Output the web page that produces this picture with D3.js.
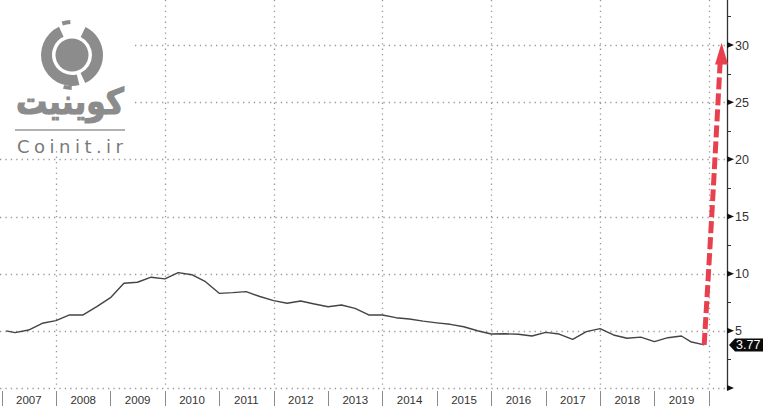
<!DOCTYPE html>
<html><head><meta charset="utf-8">
<script src="https://cdn.jsdelivr.net/npm/d3@7"></script>
<style>html,body{margin:0;padding:0;background:#fff;}svg{display:block;}</style>
</head><body>
<svg id="chart" width="768" height="406"></svg>
<script>
// ---- data ----
const dates = ["2007-02","2007-04","2007-07","2007-10","2008-01","2008-04","2008-07","2008-10",
"2009-01","2009-04","2009-07","2009-10","2010-01","2010-04","2010-07","2010-10",
"2011-01","2011-04","2011-07","2011-10","2012-01","2012-04","2012-07","2012-10",
"2013-01","2013-04","2013-07","2013-10","2014-01","2014-04","2014-07","2014-10",
"2015-01","2015-04","2015-07","2015-10","2016-01","2016-04","2016-07","2016-10",
"2017-01","2017-04","2017-07","2017-10","2018-01","2018-04","2018-07","2018-10",
"2019-01","2019-04","2019-07","2019-09","2019-12"];
const values = [5.0,4.84,5.07,5.66,5.89,6.39,6.39,7.11,
7.9,9.16,9.25,9.69,9.54,10.09,9.91,9.3,
8.28,8.34,8.43,8.0,7.64,7.41,7.61,7.35,
7.11,7.26,6.97,6.39,6.39,6.15,6.04,5.85,
5.7,5.57,5.36,5.01,4.72,4.74,4.7,4.55,
4.87,4.72,4.26,4.93,5.19,4.64,4.35,4.45,
4.05,4.4,4.55,4.05,3.77];
const years = [2007,2008,2009,2010,2011,2012,2013,2014,2015,2016,2017,2018,2019];
const yTicks = [0,5,10,15,20,25,30];
const yMinorTicks = [2.5,7.5,12.5,17.5,22.5,27.5,32.5];
const gridYears = [2008,2010,2012,2014,2016,2018,2020];
const lastLabel = "3.77";
// annotation arrow path (date, value)
const arrowPts = [["2019-12-01",3.77],["2020-01-25",16],["2020-03-20",29.2]];

// ---- chart ----
const svg = d3.select("#chart");
const parse = d3.timeParse("%Y-%m");
const parseD = d3.timeParse("%Y-%m-%d");
const data = dates.map((d,i)=>({date:parse(d), v:values[i]}));

const x = d3.scaleTime().domain([new Date(2007,0,1), new Date(2020,0,1)]).range([1.6, 708.8]);
const y = d3.scaleLinear().domain([0,30]).range([388,45]);
const axisX = 727;

// gridlines
const grid = svg.append("g").attr("stroke","#999").attr("stroke-width",1.3).attr("stroke-dasharray","1.3,4.1");
grid.selectAll("line.h").data(yTicks).join("line")
  .attr("x1",0).attr("x2",axisX).attr("y1",d=>Math.round(y(d))+0.5).attr("y2",d=>Math.round(y(d))+0.5);
grid.selectAll("line.v").data(gridYears).join("line")
  .attr("x1",d=>Math.round(x(new Date(d,0,1)))+0.5).attr("x2",d=>Math.round(x(new Date(d,0,1)))+0.5)
  .attr("y1",0).attr("y2",388);

// bottom axis separators and labels
const bottom = svg.append("g");
bottom.selectAll("line").data(years.concat([2020])).join("line")
  .attr("x1",d=>Math.round(x(new Date(d,0,1)))+0.5).attr("x2",d=>Math.round(x(new Date(d,0,1)))+0.5)
  .attr("y1",391).attr("y2",406).attr("stroke","#8a8a8a").attr("stroke-width",1);
bottom.selectAll("text").data(years).join("text")
  .attr("x",d=>(x(new Date(d,0,1))+x(new Date(d+1,0,1)))/2)
  .attr("y",403.5).attr("text-anchor","middle")
  .attr("font-family","Liberation Sans, Arial, sans-serif").attr("font-size",11.5).attr("fill","#333")
  .text(d=>d);

// right axis
const ra = svg.append("g");
ra.append("line").attr("x1",axisX+0.5).attr("x2",axisX+0.5).attr("y1",0).attr("y2",390)
  .attr("stroke","#333").attr("stroke-width",1.3);
ra.selectAll("path.maj").data(yTicks).join("path")
  .attr("d",d=>{const yy=y(d);return `M${axisX},${yy-3}L${axisX+7},${yy}L${axisX},${yy+3}Z`;})
  .attr("fill","#111");
ra.selectAll("line.min").data(yMinorTicks).join("line")
  .attr("x1",axisX).attr("x2",axisX+4).attr("y1",d=>Math.round(y(d))+0.5).attr("y2",d=>Math.round(y(d))+0.5)
  .attr("stroke","#333").attr("stroke-width",1);
ra.selectAll("text").data(yTicks.filter(d=>d>0)).join("text")
  .attr("x",axisX+8).attr("y",d=>y(d)+4.5)
  .attr("font-family","Liberation Sans, Arial, sans-serif").attr("font-size",12.5).attr("fill","#333")
  .text(d=>d);

// series line
svg.append("path").datum(data)
  .attr("d",d3.line().x(d=>x(d.date)).y(d=>y(d.v)))
  .attr("fill","none").attr("stroke","#444").attr("stroke-width",1.4).attr("stroke-linejoin","round");

// last value label
const lv = values[values.length-1];
const ly = y(lv);
svg.append("path")
  .attr("d",`M${axisX+2},${ly}L${axisX+8},${ly-6.5}L${axisX+36},${ly-6.5}L${axisX+36},${ly+6.5}L${axisX+8},${ly+6.5}Z`)
  .attr("fill","#0a0a0a");
svg.append("text").attr("x",axisX+9).attr("y",ly+4.5)
  .attr("font-family","Liberation Sans, Arial, sans-serif").attr("font-size",12.5).attr("fill","#fff")
  .text(lastLabel);

// red arrow annotation
const ap = arrowPts.map(p=>[x(parseD(p[0])), y(p[1])]);
svg.append("path").attr("d",d3.line().curve(d3.curveNatural)(ap))
  .attr("fill","none").attr("stroke","#e8404f").attr("stroke-width",5)
  .attr("stroke-dasharray","12,4");
const tip = ap[ap.length-1];
svg.append("path")
  .attr("d",`M${tip[0]+1},${y(30.2)}L${tip[0]+7.5},${y(28.3)}L${tip[0]-5.5},${y(28.3)}Z`)
  .attr("fill","#e8404f");

// logo
const logo = svg.append("g");
logo.append("rect").attr("x",0).attr("y",0).attr("width",133).attr("height",150).attr("fill","#fff");
const gray = "#8c8c8c";
const cx = 72, cy = 55;
const arc = d3.arc();
// C-shaped outer ring (open on the right) with notches
[[0.45, 2.7],[2.9, 5.85]].forEach(a=>{
  logo.append("path").attr("transform",`translate(${cx},${cy})`)
    .attr("d",arc({innerRadius:20,outerRadius:31,startAngle:a[0],endAngle:a[1]}))
    .attr("fill",gray);
});
[[-0.3,-0.05],[3.15,3.4]].forEach(a=>{
  logo.append("path").attr("transform",`translate(${cx},${cy})`)
    .attr("d",arc({innerRadius:31,outerRadius:35,startAngle:a[0],endAngle:a[1]}))
    .attr("fill",gray);
});
logo.append("circle").attr("cx",cx).attr("cy",cy).attr("r",16.5).attr("fill",gray);
logo.append("text").attr("x",70).attr("y",114).attr("text-anchor","middle")
  .attr("font-family","DejaVu Sans, sans-serif").attr("font-weight","bold").attr("font-size",36)
  .attr("fill",gray).attr("stroke",gray).attr("stroke-width",1.2)
  .attr("textLength",108).attr("lengthAdjust","spacingAndGlyphs")
  .text("کوینیت");
logo.append("line").attr("x1",15).attr("x2",125).attr("y1",130).attr("y2",130)
  .attr("stroke","#999").attr("stroke-width",1.3);
logo.append("text").attr("x",17).attr("y",153)
  .attr("font-family","DejaVu Sans, sans-serif").attr("font-size",18)
  .attr("fill","#7a7a7a").attr("textLength",106).attr("lengthAdjust","spacing")
  .text("Coinit.ir");
</script>
</body></html>
